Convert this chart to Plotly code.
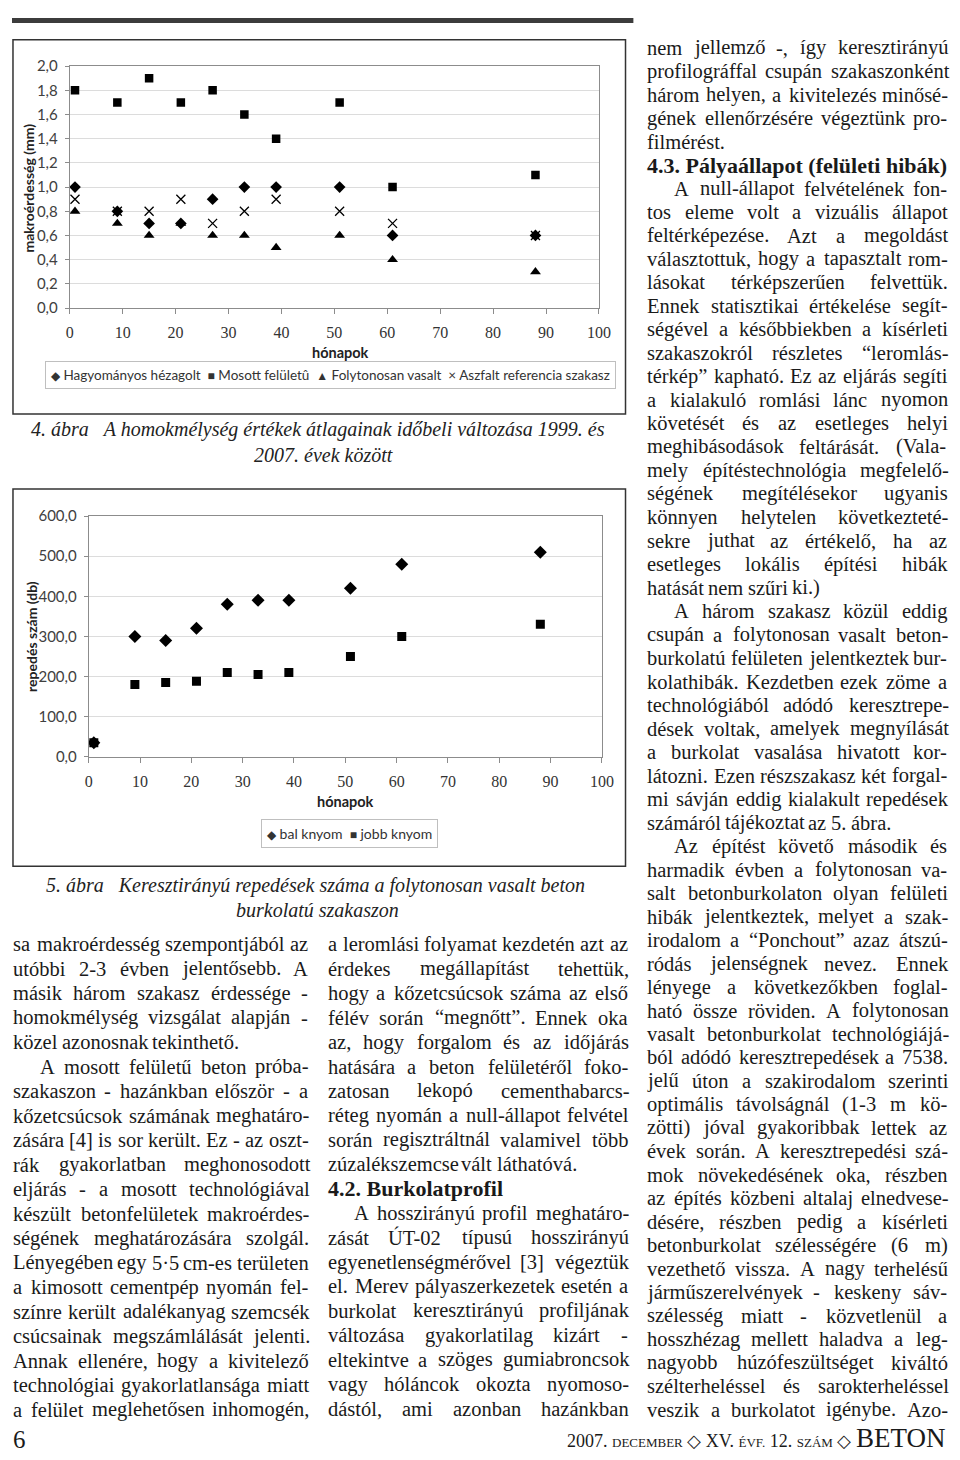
import unicodedata
import plotly.graph_objects as go

# a böngésző 8 px margót tesz a rajz köré, ezért a rajz kisebb és eltolt
OX, OY = 8, 8
W, H = 952, 1452

# 4. ábra - homokmélység (mm)
honapok = [1, 9, 15, 21, 27, 33, 39, 51, 61, 88]
hagyomanyos = [1.0, 0.8, 0.7, 0.7, 0.9, 1.0, 1.0, 1.0, 0.6, 0.6]
mosott = [1.8, 1.7, 1.9, 1.7, 1.8, 1.6, 1.4, 1.7, 1.0, 1.1]
folytonosan = [0.8, 0.7, 0.6, 0.7, 0.6, 0.6, 0.5, 0.6, 0.4, 0.3]
aszfalt = [0.9, 0.8, 0.8, 0.9, 0.7, 0.8, 0.9, 0.8, 0.7, 0.6]

# 5. ábra - repedés szám (db)
honapok2 = [1, 9, 15, 21, 27, 33, 39, 51, 61, 88]
bal_knyom = [35, 300, 290, 320, 380, 390, 390, 420, 480, 510]
jobb_knyom = [35, 180, 185, 188, 210, 205, 210, 250, 300, 330]

# szöveg hasábok ('>' = behúzás, '|' = bekezdés vége, '#' = alcím)
bal_hasab = [
    "sa makroérdesség szempontjából az",
    "utóbbi 2-3 évben jelentősebb. A",
    "másik három szakasz érdessége -",
    "homokmélység vizsgálat alapján -",
    "közel azonosnak tekinthető.|",
    ">A mosott felületű beton próba-",
    "szakaszon - hazánkban először - a",
    "kőzetcsúcsok számának meghatáro-",
    "zására [4] is sor került. Ez - az oszt-",
    "rák gyakorlatban meghonosodott",
    "eljárás - a mosott technológiával",
    "készült betonfelületek makroérdes-",
    "ségének meghatározására szolgál.",
    "Lényegében egy 5·5 cm-es területen",
    "a kimosott cementpép nyomán fel-",
    "színre került adalékanyag szemcsék",
    "csúcsainak megszámlálását jelenti.",
    "Annak ellenére, hogy a kivitelező",
    "technológiai gyakorlatlansága miatt",
    "a felület meglehetősen inhomogén,",
]
kozep_hasab = [
    "a leromlási folyamat kezdetén azt az",
    "érdekes megállapítást tehettük,",
    "hogy a kőzetcsúcsok száma az első",
    "félév során “megnőtt”. Ennek oka",
    "az, hogy forgalom és az időjárás",
    "hatására a beton felületéről foko-",
    "zatosan lekopó cementhabarcs-",
    "réteg nyomán a null-állapot felvétel",
    "során regisztráltnál valamivel több",
    "zúzalékszemcse vált láthatóvá.|",
    "#4.2. Burkolatprofil",
    ">A hosszirányú profil meghatáro-",
    "zását ÚT-02 típusú hosszirányú",
    "egyenetlenségmérővel [3] végeztük",
    "el. Merev pályaszerkezetek esetén a",
    "burkolat keresztirányú profiljának",
    "változása gyakorlatilag kizárt -",
    "eltekintve a szöges gumiabroncsok",
    "vagy hóláncok okozta nyomoso-",
    "dástól, ami azonban hazánkban",
]
jobb_hasab = [
    "nem jellemző -, így keresztirányú",
    "profilográffal csupán szakaszonként",
    "három helyen, a kivitelezés minősé-",
    "gének ellenőrzésére végeztünk pro-",
    "filmérést.|",
    "#4.3. Pályaállapot (felületi hibák)",
    ">A null-állapot felvételének fon-",
    "tos eleme volt a vizuális állapot",
    "feltérképezése. Azt a megoldást",
    "választottuk, hogy a tapasztalt rom-",
    "lásokat térképszerűen felvettük.",
    "Ennek statisztikai értékelése segít-",
    "ségével a későbbiekben a kísérleti",
    "szakaszokról részletes “leromlás-",
    "térkép” kapható. Ez az eljárás segíti",
    "a kialakuló romlási lánc nyomon",
    "követését és az esetleges helyi",
    "meghibásodások feltárását. (Vala-",
    "mely építéstechnológia megfelelő-",
    "ségének megítélésekor ugyanis",
    "könnyen helytelen következteté-",
    "sekre juthat az értékelő, ha az",
    "esetleges lokális építési hibák",
    "hatását nem szűri ki.)|",
    ">A három szakasz közül eddig",
    "csupán a folytonosan vasalt beton-",
    "burkolatú felületen jelentkeztek bur-",
    "kolathibák. Kezdetben ezek zöme a",
    "technológiából adódó keresztrepe-",
    "dések voltak, amelyek megnyílását",
    "a burkolat vasalása hivatott kor-",
    "látozni. Ezen részszakasz két forgal-",
    "mi sávján eddig kialakult repedések",
    "számáról tájékoztat az 5. ábra.|",
    ">Az építést követő második és",
    "harmadik évben a folytonosan va-",
    "salt betonburkolaton olyan felületi",
    "hibák jelentkeztek, melyet a szak-",
    "irodalom a “Ponchout” azaz átszú-",
    "ródás jelenségnek nevez. Ennek",
    "lényege a következőkben foglal-",
    "ható össze röviden. A folytonosan",
    "vasalt betonburkolat technológiájá-",
    "ból adódó keresztrepedések a 7538.",
    "jelű úton a szakirodalom szerinti",
    "optimális távolságnál (1-3 m kö-",
    "zötti) jóval gyakoribbak lettek az",
    "évek során. A keresztrepedési szá-",
    "mok növekedésének oka, részben",
    "az építés közbeni altalaj elnedvese-",
    "désére, részben pedig a kísérleti",
    "betonburkolat szélességére (6 m)",
    "vezethető vissza. A nagy terhelésű",
    "járműszerelvények - keskeny sáv-",
    "szélesség miatt - közvetlenül a",
    "hosszhézag mellett haladva a leg-",
    "nagyobb húzófeszültséget kiváltó",
    "szélterheléssel és sarokterheléssel",
    "veszik a burkolatot igénybe. Azo-",
]

# Times / Liberation Serif szélességek (1/1000 em) a sorkizáráshoz
TIMES = {' ': 250, 'a': 444, 'b': 500, 'c': 444, 'd': 500, 'e': 444, 'f': 333, 'g': 500,
         'h': 500, 'i': 278, 'j': 278, 'k': 500, 'l': 278, 'm': 778, 'n': 500, 'o': 500,
         'p': 500, 'q': 500, 'r': 333, 's': 389, 't': 278, 'u': 500, 'v': 500, 'w': 722,
         'x': 500, 'y': 500, 'z': 444, 'A': 722, 'B': 667, 'C': 667, 'D': 722, 'E': 611,
         'F': 556, 'G': 722, 'H': 722, 'I': 333, 'J': 389, 'K': 722, 'L': 611, 'M': 889,
         'N': 722, 'O': 722, 'P': 556, 'Q': 722, 'R': 667, 'S': 556, 'T': 611, 'U': 722,
         'V': 722, 'W': 944, 'X': 722, 'Y': 722, 'Z': 611, '.': 250, ',': 250, '-': 333,
         '(': 333, ')': 333, '[': 333, ']': 333, ':': 278, ';': 278, '“': 444, '”': 444,
         '·': 250, '/': 278}


def szo_szel(szo, meret):
    s = 0
    for ch in szo:
        if ch.isdigit():
            s += 500
            continue
        base = unicodedata.normalize('NFD', ch)[0]
        s += TIMES.get(ch, TIMES.get(base, 500))
    return s * meret / 1000


def px(x):
    return (x - OX) / W


def py(y):
    return 1 - (y - OY) / H


BETU = 20.5
SZIN = '#1a1a1a'


def hasab(sorok, x_bal, y0, lepes, szel=305, behuz=27):
    annots = []
    for i, sor in enumerate(sorok):
        y = y0 + i * lepes
        if sor.startswith('#'):
            annots.append(dict(text='<b>' + sor[1:] + '</b>', x=px(x_bal), y=py(y),
                               xanchor='left', yanchor='middle',
                               font=dict(family='Liberation Serif', size=22, color=SZIN)))
            continue
        kizar = True
        ind = 0
        if sor.startswith('>'):
            sor = sor[1:]
            ind = behuz
        if sor.endswith('|'):
            sor = sor[:-1]
            kizar = False
        szavak = sor.split(' ')
        ws = [szo_szel(w, BETU) for w in szavak]
        if kizar and len(szavak) > 1:
            koz = (szel - ind - sum(ws)) / (len(szavak) - 1)
        else:
            koz = 250 * BETU / 1000
        x = x_bal + ind
        for w, ww in zip(szavak, ws):
            annots.append(dict(text=w, x=px(x), y=py(y), xanchor='left', yanchor='middle',
                               font=dict(family='Liberation Serif', size=BETU, color=SZIN)))
            x += ww + koz
    return annots


fig = go.Figure()

# 4. ábra pontjai
fig.add_trace(go.Scatter(x=honapok, y=hagyomanyos, mode='markers', name='Hagyományos hézagolt',
                         marker=dict(symbol='diamond', size=9, color='black'), xaxis='x', yaxis='y'))
fig.add_trace(go.Scatter(x=honapok, y=mosott, mode='markers', name='Mosott felületû',
                         marker=dict(symbol='square', size=8.5, color='black'), xaxis='x', yaxis='y'))
fig.add_trace(go.Scatter(x=honapok, y=folytonosan, mode='markers', name='Folytonosan vasalt',
                         marker=dict(symbol='triangle-up', size=9.5, color='black'), xaxis='x', yaxis='y'))
fig.add_trace(go.Scatter(x=honapok, y=aszfalt, mode='markers', name='Aszfalt referencia szakasz',
                         marker=dict(symbol='x-thin', size=9, line=dict(width=1.3, color='black')),
                         xaxis='x', yaxis='y'))

# 5. ábra pontjai
fig.add_trace(go.Scatter(x=honapok2, y=bal_knyom, mode='markers', name='bal knyom',
                         marker=dict(symbol='diamond', size=10, color='black'), xaxis='x2', yaxis='y2'))
fig.add_trace(go.Scatter(x=honapok2, y=jobb_knyom, mode='markers', name='jobb knyom',
                         marker=dict(symbol='square', size=9, color='black'), xaxis='x2', yaxis='y2'))

tengely_x = dict(range=[0, 100], dtick=10, tick0=0, showgrid=False, zeroline=False,
                 showline=True, linecolor='#8c8c8c', linewidth=1, mirror=True,
                 ticks='outside', ticklen=5, tickcolor='#8c8c8c', ticklabelstandoff=5,
                 tickfont=dict(family='Liberation Serif', size=16, color='#333'))
tengely_y = dict(showgrid=True, gridcolor='#dcdcdc', zeroline=False,
                 showline=True, linecolor='#8c8c8c', linewidth=1, mirror=True,
                 ticks='outside', ticklen=4, tickcolor='#8c8c8c', ticklabelstandoff=4,
                 tickformat='.1f', tickfont=dict(family='Lato', size=15, color='#404040'))

fig.update_layout(
    width=W, height=H, margin=dict(l=0, r=0, t=0, b=0),
    paper_bgcolor='white', plot_bgcolor='white', showlegend=False, separators=', ',
    font=dict(family='Liberation Serif', color=SZIN),
    xaxis=dict(tengely_x, domain=[px(66.7), px(605)], anchor='y'),
    yaxis=dict(tengely_y, domain=[py(301.7), py(56.7)], range=[0, 2], dtick=0.2, anchor='x'),
    xaxis2=dict(tengely_x, domain=[px(86), px(608)], anchor='y2'),
    yaxis2=dict(tengely_y, domain=[py(756), py(512.3)], range=[0, 600], dtick=100, anchor='x2'),
)

keret = dict(color='#333', width=1.5)
fig.add_shape(type='rect', xref='paper', yref='paper', x0=0, x1=px(640), y0=py(13), y1=1,
              fillcolor='#3c3c3c', line=dict(width=0))
fig.add_shape(type='rect', xref='paper', yref='paper', x0=px(9), x1=px(632), y0=py(409), y1=py(30),
              line=keret)
fig.add_shape(type='rect', xref='paper', yref='paper', x0=px(9), x1=px(632), y0=py(867), y1=py(485),
              line=keret)

annots = []
sans = 'Lato'
annots.append(dict(text='<b>makroérdesség (mm)</b>', x=px(25), y=py(180), textangle=-90,
                   xanchor='center', yanchor='middle', font=dict(family=sans, size=14, color='#222')))
annots.append(dict(text='<b>hónapok</b>', x=px(342), y=py(347), xanchor='center', yanchor='middle',
                   font=dict(family=sans, size=14.5, color='#222')))
sp = '\u00a0'
jel = "<span style='font-size:12px'>%s</span>"
leg1 = (jel % '◆') + sp + 'Hagyományos hézagolt' + sp * 2 + (jel % '■') + sp + 'Mosott felületû' + sp * 2 \
    + (jel % '▲') + sp + 'Folytonosan vasalt' + sp * 2 + '×' + sp + 'Aszfalt referencia szakasz'
annots.append(dict(text=leg1, x=px(332), y=py(369.5), xanchor='center', yanchor='middle',
                   font=dict(family=sans, size=13.5, color='#333'), bordercolor='#bfbfbf',
                   borderwidth=1, borderpad=5, bgcolor='white'))

annots.append(dict(text='<b>repedés szám (db)</b>', x=px(28), y=py(634), textangle=-90,
                   xanchor='center', yanchor='middle', font=dict(family=sans, size=14, color='#222')))
annots.append(dict(text='<b>hónapok</b>', x=px(347), y=py(801), xanchor='center', yanchor='middle',
                   font=dict(family=sans, size=14.5, color='#222')))
leg2 = (jel % '◆') + sp + 'bal knyom' + sp * 2 + (jel % '■') + sp + 'jobb knyom'
annots.append(dict(text=leg2, x=px(351), y=py(834), xanchor='center', yanchor='middle',
                   font=dict(family=sans, size=14, color='#333'), bordercolor='#bfbfbf',
                   borderwidth=1, borderpad=5, bgcolor='white'))

# ábraaláírások
dolt = dict(family='Liberation Serif', size=20, color='#222')
annots.append(dict(text='<i>4. ábra' + sp * 3 + 'A homokmélység értékek átlagainak időbeli változása 1999. és</i>',
                   x=px(319), y=py(425), xanchor='center', yanchor='middle', font=dolt))
annots.append(dict(text='<i>2007. évek között</i>', x=px(325), y=py(450), xanchor='center',
                   yanchor='middle', font=dolt))
annots.append(dict(text='<i>5. ábra' + sp * 3 + 'Keresztirányú repedések száma a folytonosan vasalt beton</i>',
                   x=px(317), y=py(886), xanchor='center', yanchor='middle', font=dolt))
annots.append(dict(text='<i>burkolatú szakaszon</i>', x=px(319), y=py(911), xanchor='center',
                   yanchor='middle', font=dolt))

# hasábok
annots += hasab(bal_hasab, 8, 946, 24.79, szel=300)
annots += hasab(kozep_hasab, 328, 946, 24.74)
annots += hasab(jobb_hasab, 653, 38, 23.78)

# lábléc
annots.append(dict(text='6', x=px(8), y=py(1447), xanchor='left', yanchor='middle',
                   font=dict(family='Liberation Serif', size=25, color=SZIN)))
kis = "<span style='font-size:13px'>%s</span>"
lab = '2007. ' + (kis % 'DECEMBER') + ' ◇ XV. ' + (kis % 'ÉVF.') + ' 12. ' + (kis % 'SZÁM') \
    + " ◇ <span style='font-size:27px'>BETON</span>"
annots.append(dict(text=lab, x=px(958), y=py(1446), xanchor='right', yanchor='middle',
                   font=dict(family='Liberation Serif', size=18, color=SZIN)))

for a in annots:
    a.setdefault('xref', 'paper')
    a.setdefault('yref', 'paper')
    a.setdefault('showarrow', False)
    a.setdefault('borderpad', 0)
fig.update_layout(annotations=annots)

fig.write_html("out.html")
